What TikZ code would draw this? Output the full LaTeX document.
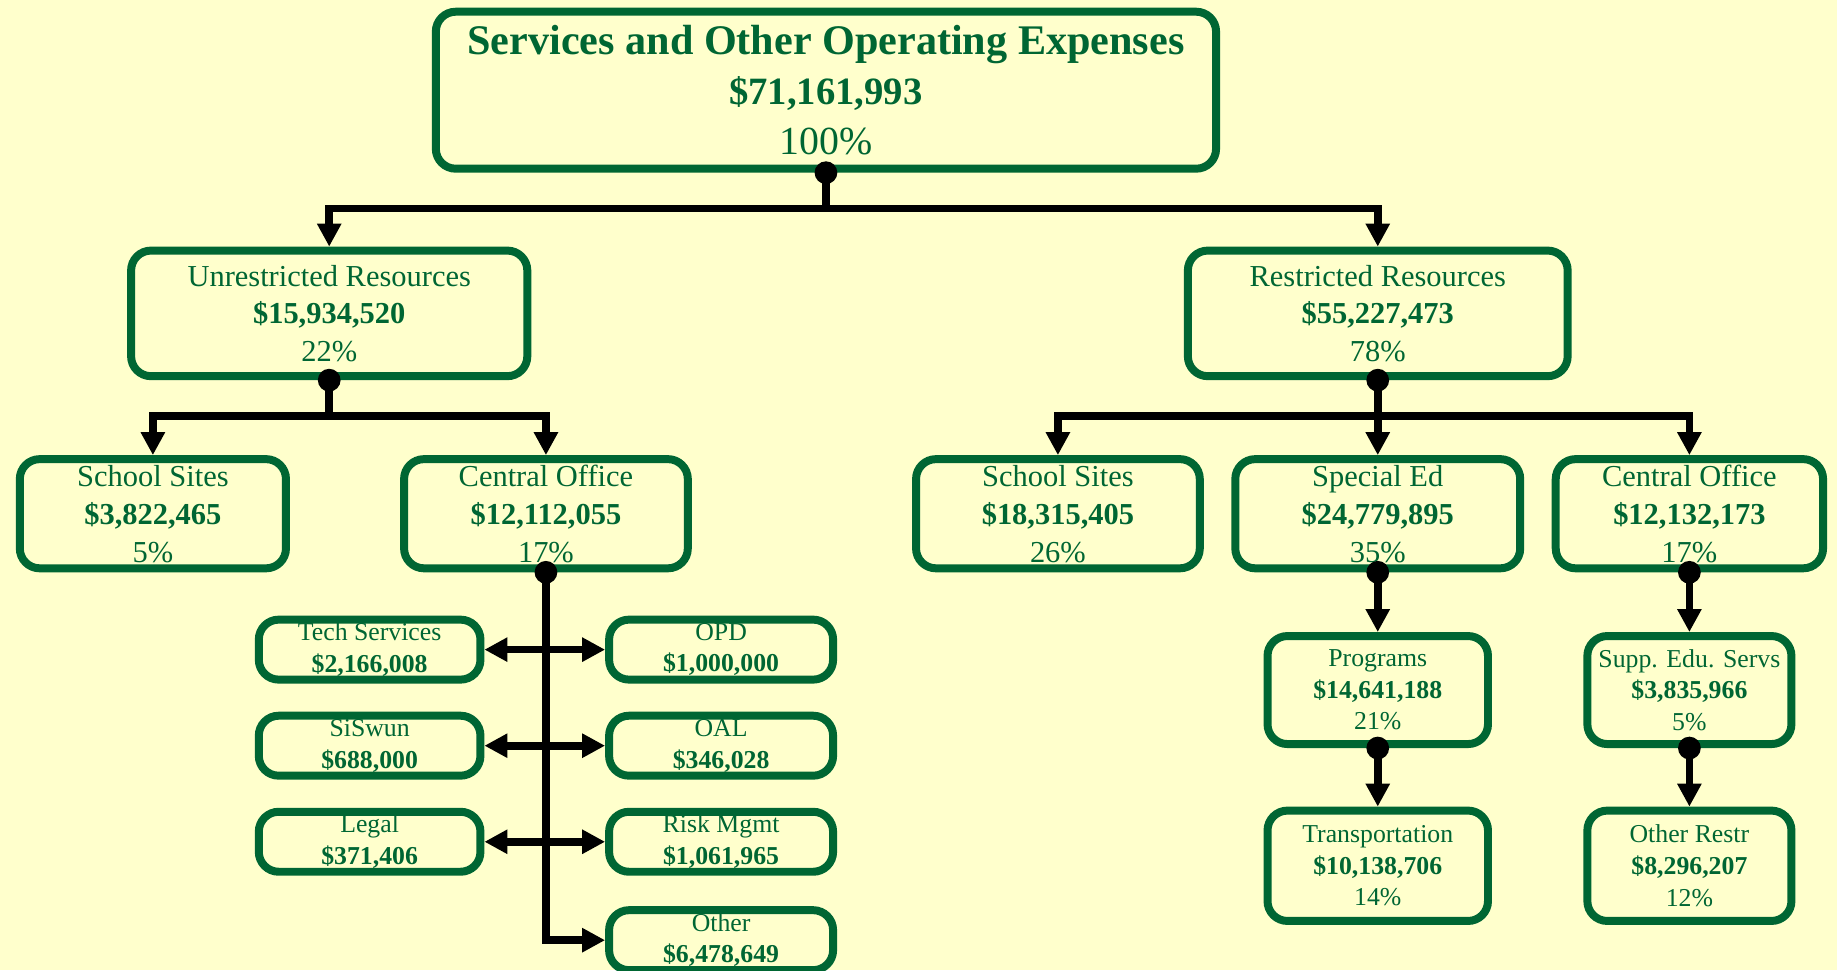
\documentclass[tikz,border=0pt]{standalone}
\usepackage{fontspec}
\setmainfont{Liberation Serif}
\usetikzlibrary{arrows.meta}
\definecolor{budgetgreen}{HTML}{006633}
\definecolor{paper}{HTML}{FFFFCC}

\begin{document}
\begin{tikzpicture}[
x=0.5pt,y=-0.5pt,
>={Triangle[length=9.8pt,width=9.8pt]},
every path/.style={line width=3.3pt},
box/.style={draw=budgetgreen,line width=3.4pt,rounded corners=8.5pt,fill=paper,text=budgetgreen,align=center,inner sep=0pt},
topbox/.style={box,font=\fontsize{16.5}{21.5}\selectfont,minimum width=333pt,minimum height=67pt},
midbox/.style={box,font=\fontsize{13}{16}\selectfont,minimum height=53.6pt},
lowbox/.style={box,font=\fontsize{13}{16.25}\selectfont,minimum height=46.6pt},
subbox/.style={box,font=\fontsize{11}{13.5}\selectfont,minimum width=94.6pt,minimum height=25.6pt},
leafbox/.style={box,font=\fontsize{11}{13.5}\selectfont,minimum height=46.1pt},
node distance=41pt
]

\useasboundingbox (0,0) rectangle (1568,828);
\path[fill=paper] (0,0) rectangle (1568,828);

\node[topbox] (total) at (705,77) {{\fontsize{18}{21.5}\selectfont\bfseries Services and Other Operating Expenses}\\\textbf{\$71,161,993}\\{\fontsize{17}{21.5}\selectfont 100\%}};
	\node[midbox,minimum width=169.1pt] (unres) at (281,267.5) {Unrestricted Resources\\\textbf{\$15,934,520}\\22\%};
		\node[lowbox,minimum width=113.6pt] (uschool) at (130.5,438.5) {School Sites\\\textbf{\$3,822,465}\\5\%};
		\node[lowbox,minimum width=121.1pt] (uoffice) at (466,438.5) {Central Office\\\textbf{\$12,112,055}\\17\%};
			\node[subbox] (tech) at (315.5,554.5) {Tech Services\\\textbf{\$2,166,008}};
			\node[subbox] (siswun) [below of = tech] {SiSwun\\\textbf{\$688,000}};
			\node[subbox] (legal) [below of = siswun] {Legal\\\textbf{\$371,406}};
			\node[subbox,minimum width=95.6pt] (opd) at (615.5,554.5) {OPD\\\textbf{\$1,000,000}};
			\node[subbox,minimum width=95.6pt] (oal) [below of = opd] {OAL\\\textbf{\$346,028}};
			\node[subbox,minimum width=95.6pt] (risk) [below of = oal] {Risk Mgmt\\\textbf{\$1,061,965}};
			\node[subbox,minimum width=95.6pt] (other) [below of = risk,yshift=-1pt] {Other\\\textbf{\$6,478,649}};
	\node[midbox,minimum width=162.1pt] (res) at (1176,267.5) {Restricted Resources\\\textbf{\$55,227,473}\\78\%};
		\node[lowbox,minimum width=121.1pt] (rschool) at (903,438.5) {School Sites\\\textbf{\$18,315,405}\\26\%};
		\node[lowbox,minimum width=121.6pt] (sped) at (1176,438.5) {Special Ed\\\textbf{\$24,779,895}\\35\%};
			\node[leafbox,minimum width=94.1pt] (prog) at (1176,589) {Programs\\\textbf{\$14,641,188}\\21\%};
			\node[leafbox,minimum width=94.1pt,minimum height=47.1pt] (transp) at (1176,739) {Transportation\\\textbf{\$10,138,706}\\14\%};
		\node[lowbox,minimum width=114.1pt] (roffice) at (1442,438.5) {Central Office\\\textbf{\$12,132,173}\\17\%};
			\node[leafbox,minimum width=87.1pt] (supp) at (1442,589) {Supp. Edu. Servs\\\textbf{\$3,835,966}\\5\%};
			\node[leafbox,minimum width=87.1pt,minimum height=47.1pt] (otherr) at (1442,739) {Other Restr\\\textbf{\$8,296,207}\\12\%};

% forks
\coordinate (totalfork) at (705,178);
\coordinate (unresfork) at (281,355);
\coordinate (resfork) at (1176,355);

\path[draw] (total.south) -- (totalfork);
\path[draw,->] (totalfork) -| (unres.north);
\path[draw,->] (totalfork) -| (res.north);
	\path[draw] (unres.south) -- (unresfork);
	\path[draw,->] (unresfork) -| (uschool.north);
	\path[draw,->] (unresfork) -| (uoffice.north);
		\path[draw,->] (uoffice.south) |- (other.west);
		\path[draw,<->] (tech) -- (opd);
		\path[draw,<->] (siswun) -- (oal);
		\path[draw,<->] (legal) -- (risk);
	\path[draw,->] (res.south) -- (sped.north);
	\path[draw,->] (resfork) -| (rschool.north);
	\path[draw,->] (resfork) -| (roffice.north);
		\path[draw,->] (sped.south) -- (prog.north);
		\path[draw,->] (prog.south) -- (transp.north);
		\path[draw,->] (roffice.south) -- (supp.north);
		\path[draw,->] (supp.south) -- (otherr.north);

% dots
\fill (total.south) circle[radius=4.85pt];
\fill (unres.south) circle[radius=4.85pt];
\fill (res.south) circle[radius=4.85pt];
\fill (uoffice.south) circle[radius=4.85pt];
\fill (sped.south) circle[radius=4.85pt];
\fill (roffice.south) circle[radius=4.85pt];
\fill (prog.south) circle[radius=4.85pt];
\fill (supp.south) circle[radius=4.85pt];

\end{tikzpicture}
\end{document}
